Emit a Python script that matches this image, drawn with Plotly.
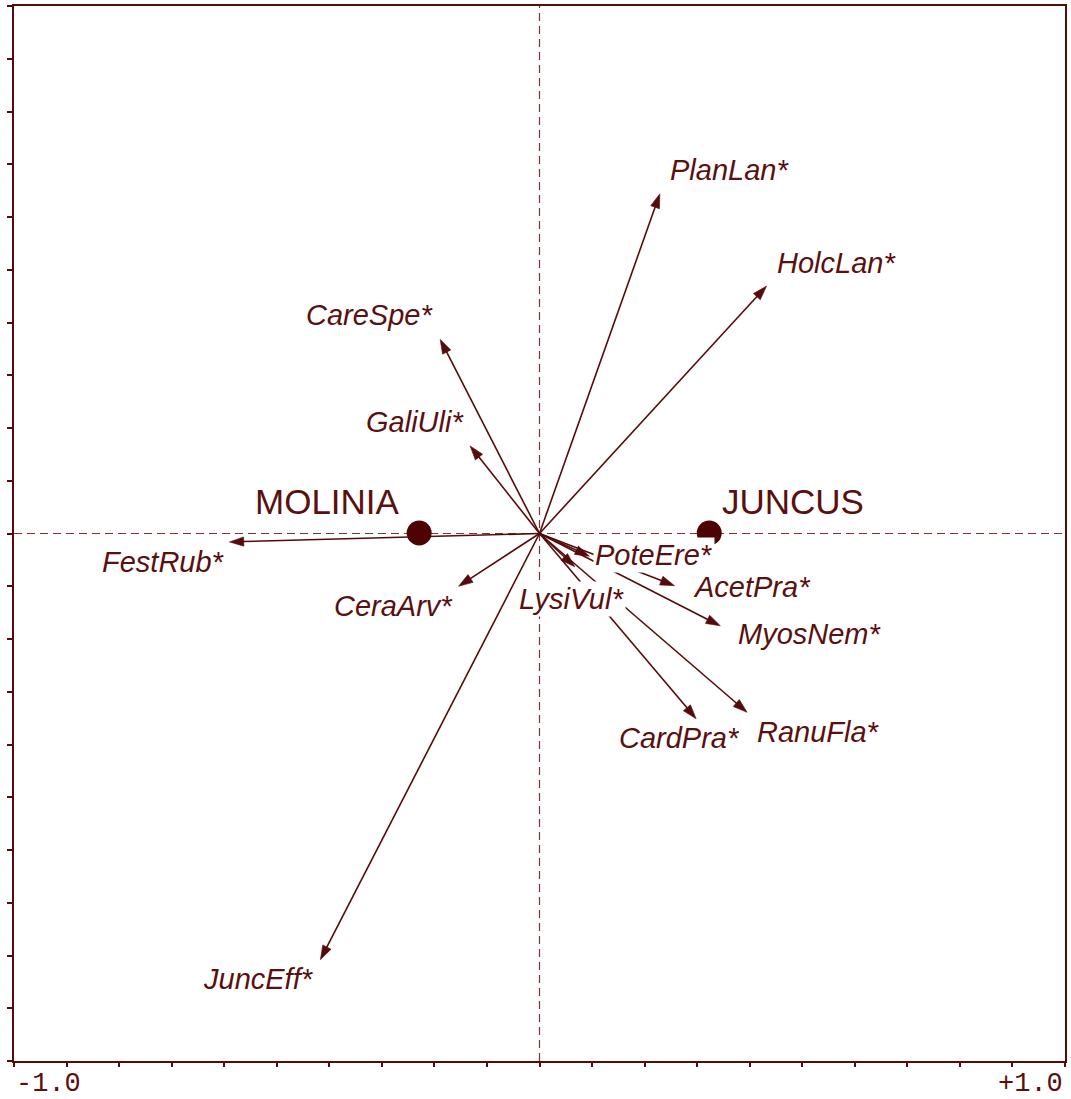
import plotly.graph_objects as go

# ---- data ----
species = ["PlanLan*", "HolcLan*", "CareSpe*", "GaliUli*", "FestRub*", "CeraArv*",
           "JuncEff*", "PoteEre*", "AcetPra*", "MyosNem*", "LysiVul*", "CardPra*", "RanuFla*"]
sp_x = [0.229, 0.432, -0.189, -0.132, -0.590, -0.154, -0.417, 0.095, 0.257, 0.344, 0.067, 0.298, 0.395]
sp_y = [0.644, 0.469, 0.368, 0.166, -0.016, -0.100, -0.808, -0.043, -0.099, -0.175, -0.063, -0.351, -0.339]

groups = ["MOLINIA", "JUNCUS"]
grp_x = [-0.229, 0.323]
grp_y = [0.001, 0.001]

axis_tick_labels = ["-1.0", "+1.0"]

# ---- styling ----
COL = "#560b0b"
TXT = "#5a1010"
DASH = "#7a3434"
# label placement (anchor, xshift px, yshift px)
sp_label_style = [
    ("left", 8, 24), ("left", 8, 23), ("right", -5, 24), ("right", -4, 24),
    ("right", -2, -20), ("right", -4, -20), ("right", -4, -19), ("left", 4, 1),
    ("left", 16, -1), ("left", 16, -8), ("center", -3, -32), ("center", -17, -19),
    ("left", 8, -20),
]
grp_label_style = [("right", -17, 31), ("left", 11, 31)]

fig = go.Figure()

# arrows
for x, y in zip(sp_x, sp_y):
    fig.add_trace(go.Scatter(
        x=[0, x], y=[0, y], mode="lines+markers",
        line=dict(color=COL, width=1.6),
        marker=dict(symbol="arrow", size=[0, 15], angleref="previous", color=COL,
                    opacity=1, line=dict(width=0.6, color=COL)),
        hoverinfo="skip", showlegend=False,
    ))

# group centroids
fig.add_trace(go.Scatter(
    x=grp_x, y=grp_y, mode="markers",
    marker=dict(symbol="circle", size=25, color="#4d0303", opacity=1, line=dict(width=0)),
    hoverinfo="skip", showlegend=False,
))

annotations = []
for name, x, y, (anc, xs, ys) in zip(species, sp_x, sp_y, sp_label_style):
    annotations.append(dict(
        x=x, y=y, xref="x", yref="y", text="<i>" + name + "</i>", showarrow=False,
        xanchor=anc, yanchor="middle", xshift=xs, yshift=ys,
        font=dict(family="Liberation Sans, Arial, sans-serif", size=29, color=TXT),
        bgcolor="white", borderpad=1,
    ))
for name, x, y, (anc, xs, ys) in zip(groups, grp_x, grp_y, grp_label_style):
    annotations.append(dict(
        x=x, y=y, xref="x", yref="y", text=name, showarrow=False,
        xanchor=anc, yanchor="middle", xshift=xs, yshift=ys,
        font=dict(family="Liberation Sans, Arial, sans-serif", size=35, color=TXT),
    ))
annotations.append(dict(
    x=0, y=-0.022, xref="paper", yref="paper", text=axis_tick_labels[0], showarrow=False,
    xanchor="left", yanchor="middle",
    font=dict(family="Liberation Mono, DejaVu Sans Mono, monospace", size=27, color=TXT),
))
annotations.append(dict(
    x=1, y=-0.022, xref="paper", yref="paper", text=axis_tick_labels[1], showarrow=False,
    xanchor="right", yanchor="middle",
    font=dict(family="Liberation Mono, DejaVu Sans Mono, monospace", size=27, color=TXT),
))

shapes = [
    dict(type="line", xref="x", yref="paper", x0=0, x1=0, y0=0, y1=1,
         line=dict(color=DASH, width=1.2, dash="8px,5px"), layer="below"),
    dict(type="line", xref="paper", yref="y", x0=0, x1=1, y0=0, y1=0,
         line=dict(color=DASH, width=1.2, dash="8px,5px"), layer="below"),
]

axis_common = dict(
    range=[-1, 1], showgrid=False, zeroline=False, showticklabels=False,
    ticks="outside", tick0=-1, dtick=0.1, tickcolor=COL, tickwidth=1.5,
    showline=True, linecolor=COL, linewidth=2, mirror=True,
)

fig.update_layout(
    width=1071, height=1099,
    margin=dict(l=14, r=4, t=5, b=38),
    paper_bgcolor="white", plot_bgcolor="white",
    xaxis=dict(**axis_common, ticklen=4),
    yaxis=dict(**axis_common, ticklen=5),
    annotations=annotations, shapes=shapes,
)

fig.write_html("out.html", config={"displayModeBar": False},
               post_script="document.body.style.margin='0px';")
